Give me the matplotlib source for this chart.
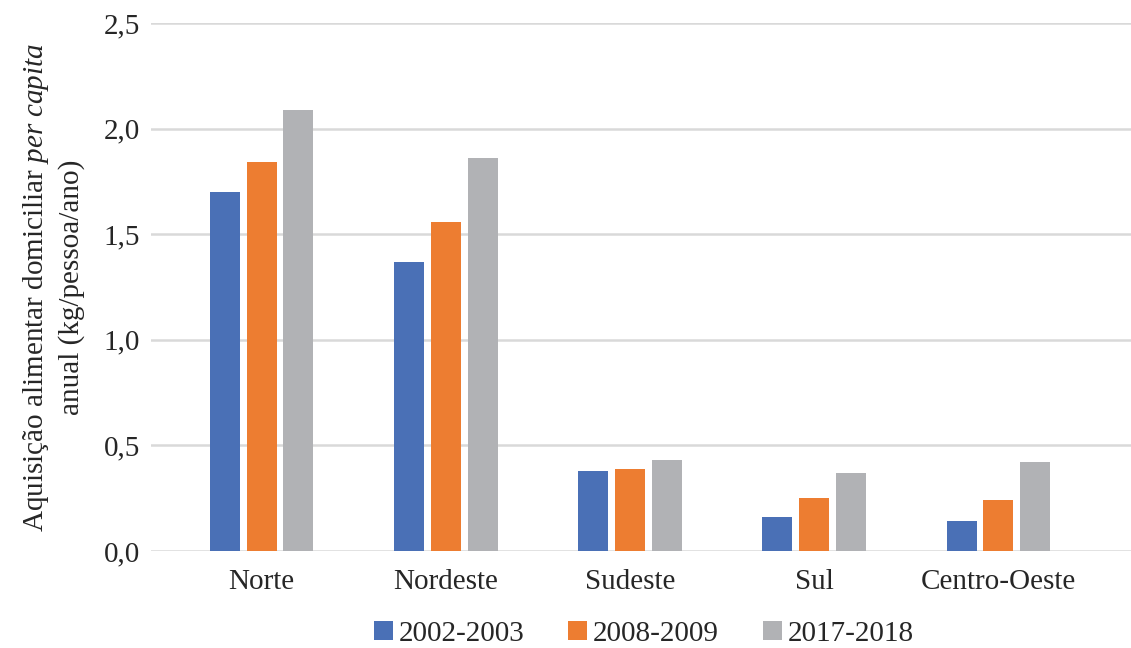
import numpy as np
import matplotlib.pyplot as plt
from matplotlib.ticker import FuncFormatter

plt.rcParams['font.family'] = ['Liberation Serif', 'DejaVu Serif']
plt.rcParams['mathtext.fontset'] = 'custom'
plt.rcParams['mathtext.rm'] = 'Liberation Serif'
plt.rcParams['mathtext.it'] = 'Liberation Serif:italic'

# Aquisição per capita por região (kg/pessoa/ano)
regioes = ['Norte', 'Nordeste', 'Sudeste', 'Sul', 'Centro-Oeste']
periodos = ['2002-2003', '2008-2009', '2017-2018']
v_2002 = [1.70, 1.37, 0.38, 0.16, 0.14]
v_2008 = [1.84, 1.56, 0.39, 0.25, 0.24]
v_2017 = [2.09, 1.86, 0.43, 0.37, 0.42]
cores = ['#4a70b6', '#ed7d31', '#b1b2b5']

TXT = '#262626'
FS = 21

fig = plt.figure(figsize=(11.31, 6.48), dpi=100)
ax = fig.add_axes([0.1335, 0.1497, 0.8665, 0.8148])

x = np.arange(len(regioes))
largura = 0.163
passo = 0.2
for i, (vals, lab, cor) in enumerate(zip([v_2002, v_2008, v_2017], periodos, cores)):
    ax.bar(x + (i - 1) * passo, vals, width=largura, color=cor, label=lab, zorder=3)

ax.set_xlim(-0.6, 4.72)
ax.set_ylim(0, 2.5)
ax.set_yticks(np.arange(0, 2.51, 0.5))
ax.yaxis.set_major_formatter(FuncFormatter(lambda v, p: f'{v:.1f}'.replace('.', ',')))
ax.set_xticks(x)
ax.set_xticklabels(regioes)

ax.grid(axis='y', color='#d9d9d9', linewidth=1.8, zorder=0)
for s in ax.spines.values():
    s.set_visible(False)
ax.tick_params(axis='both', length=0, labelsize=FS, colors=TXT)
ax.tick_params(axis='y', pad=8)
ax.tick_params(axis='x', pad=13)

ax.set_ylabel('Aquisição alimentar domiciliar $\\mathit{per\\ capita}$\nanual (kg/pessoa/ano)',
              fontsize=FS, color=TXT, labelpad=13, linespacing=1.35)

ax.legend(loc='upper center', bbox_to_anchor=(0.503, -0.082), ncol=3, frameon=False,
          fontsize=FS, handlelength=0.65, handleheight=0.65, handletextpad=0.2,
          columnspacing=1.5, labelcolor=TXT)

plt.savefig('out.png', dpi=100)
